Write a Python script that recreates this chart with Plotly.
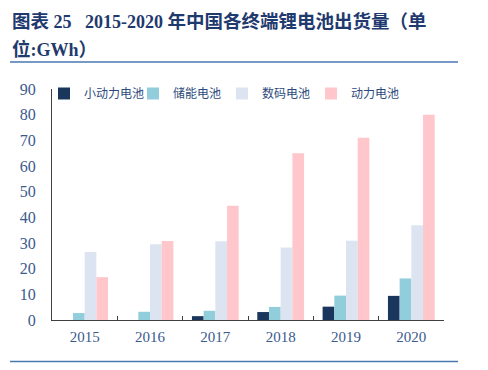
import plotly.graph_objects as go

years = ["2015", "2016", "2017", "2018", "2019", "2020"]
small_power = [0, 0, 1.5, 3.1, 5.2, 9.4]
storage = [2.7, 3.2, 3.6, 5.1, 9.5, 16.2]
digital = [26.5, 29.5, 30.7, 28.2, 30.9, 36.9]
power = [16.7, 30.8, 44.5, 65.0, 71.0, 80.0]

series_names = ["小动力电池", "储能电池", "数码电池", "动力电池"]
series_colors = ["#1b365d", "#92cddc", "#dce4f1", "#ffc7cc"]
series_values = [small_power, storage, digital, power]

fig = go.Figure()
for name, vals, col in zip(series_names, series_values, series_colors):
    fig.add_trace(go.Bar(x=years, y=vals, name=name, marker=dict(color=col, line=dict(width=0))))

tick_color = "#3b5a8e"
serif = "Liberation Serif, Times New Roman, serif"
cjk = "Liberation Serif, Noto Sans CJK SC, sans-serif"

OFF = 8  # page body margin
W, H = 488, 370
# plot area in page coords: x 52..444, y 89..320
L = 52 - OFF
R = W - (444 - OFF)
T = 89 - OFF
B = H - (320 - OFF)
pw, ph = W - L - R, H - T - B

def px(x):
    return (x - OFF - L) / pw

def py(y):
    return (H - B - (y - OFF)) / ph

def cj(s):
    return '<span style="font-size:18.5px">' + s + '</span>'

title1 = "<b>" + cj("图表") + " 25 \u00a0 2015-2020 " + cj("年中国各终端锂电池出货量（单") + "</b>"
title2 = "<b>" + cj("位") + ":GWh" + cj("）") + "</b>"

fig.update_layout(
    width=W, height=H,
    margin=dict(l=L, r=R, t=T, b=B, autoexpand=False),
    paper_bgcolor="white", plot_bgcolor="white",
    barmode="group", bargap=0.284, bargroupgap=0,
    showlegend=True,
    legend=dict(orientation="h", xref="container", yref="container",
                x=(84 - 40 - OFF) / W, xanchor="left", y=1 - (93.5 - OFF) / H, yanchor="middle",
                font=dict(family="Noto Sans CJK SC", size=12, color="#2c4a7c"),
                bgcolor="rgba(0,0,0,0)", itemwidth=30, traceorder="normal",
                entrywidth=44, entrywidthmode="pixels"),
    xaxis=dict(showline=True, linecolor="#404040", linewidth=1.2, ticks="inside", ticklen=4,
               tickcolor="#404040", tickson="boundaries", ticklabelstandoff=3,
               tickfont=dict(family=serif, size=15, color=tick_color), showgrid=False),
    yaxis=dict(range=[0, 90], dtick=10, showline=True, linecolor="#404040", linewidth=1.2,
               ticks="outside", ticklen=12, tickcolor="rgba(0,0,0,0)", showgrid=False, zeroline=False,
               tickfont=dict(family=serif, size=16, color=tick_color)),
    annotations=[
        dict(xref="paper", yref="paper", x=px(10), y=py(22), xanchor="left", yanchor="middle",
             text=title1, showarrow=False,
             font=dict(family=cjk, size=18, color="#1f3a6e")),
        dict(xref="paper", yref="paper", x=px(10), y=py(49), xanchor="left", yanchor="middle",
             text=title2, showarrow=False,
             font=dict(family=cjk, size=18, color="#1f3a6e")),
    ],
    shapes=[
        dict(type="line", xref="paper", yref="paper", x0=px(10), x1=px(458), y0=py(62), y1=py(62),
             line=dict(color="#4a78b0", width=1.5)),
        dict(type="line", xref="paper", yref="paper", x0=px(10), x1=px(458), y0=py(361.5), y1=py(361.5),
             line=dict(color="#4a78b0", width=1.5)),
    ],
)

fig.write_html("out.html")
